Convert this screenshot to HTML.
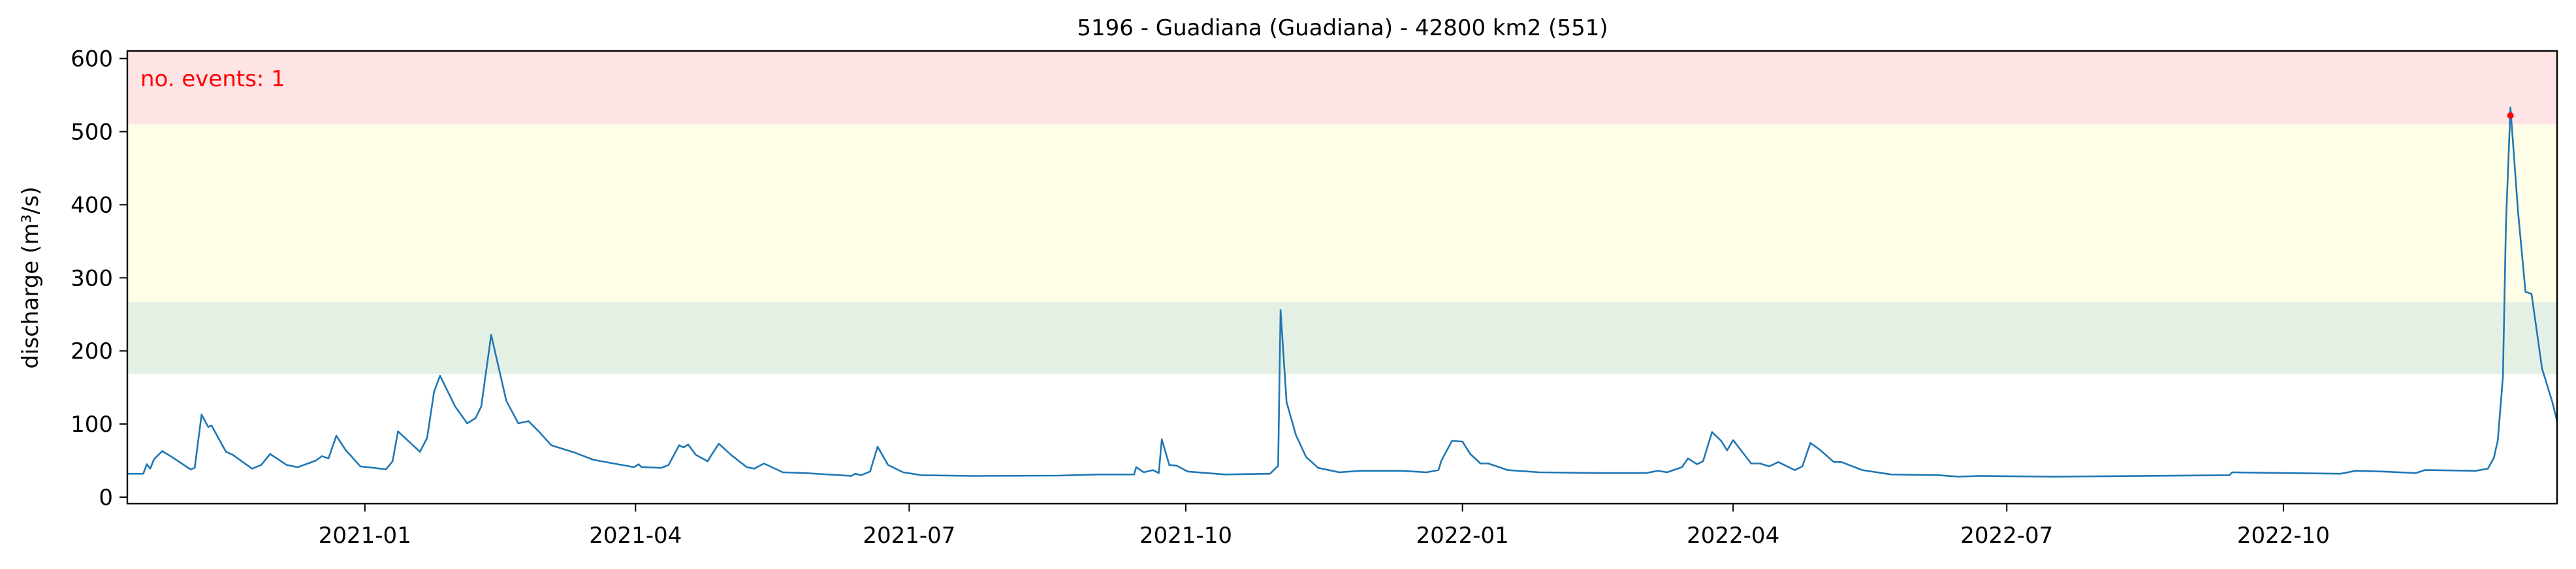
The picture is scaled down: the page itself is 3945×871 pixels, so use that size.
<!DOCTYPE html>
<html><head><meta charset="utf-8">
<style>
html,body{margin:0;padding:0;background:#fff;}
svg{display:block;}
text{font-family:"DejaVu Sans","Liberation Sans",sans-serif;}
</style></head>
<body>
<svg id="chart" width="3945" height="871" viewBox="0 0 3945 871" xmlns="http://www.w3.org/2000/svg">
  <g id="bands"></g>
  <g id="series"></g>
  <g id="axes"></g>
  <text x="2056" y="54" font-size="34" text-anchor="middle" fill="#000">5196 - Guadiana (Guadiana) - 42800 km2 (551)</text>
  <text x="215" y="132" font-size="34" fill="#ff0000">no. events: 1</text>
  <text transform="translate(58,425) rotate(-90)" font-size="34" text-anchor="middle" fill="#000">discharge (m³/s)</text>
</svg>
<script>
// ---- data (days since 2020-10-14, discharge m3/s) ----
const days = [0,5.3,6.5,7.6,8.9,11.6,14.8,21,22.4,24.7,26.9,28,32.8,35,41.5,44.5,47.5,53,56.7,62.7,64.7,66.9,69.5,72.5,77.5,82,86,88.2,90,97.3,99.7,102,104,109,113,115.8,117.7,121,126,130,133.4,136.8,141,148.7,155,168.5,170,171,177.6,180,183.5,185,186.5,189,193,194,196.7,201,206,208.5,211.7,218,225,240.8,242,244,247,249.5,253,258,264,281,310,323,334.8,335.5,338,341,343,344,346.5,349,352.6,365,380,382.7,383.5,385.5,388.6,392,396,403,410,423.6,432,436,437,440.5,444,446.6,450,452.6,459,469.6,489,505,509,512,517,519,522,524,527,530,532,534,540,543,546,549,554.5,557,559.7,562.8,567.5,570,577,586.6,602.5,609,615.5,640,699,700,736,741,750,761,764,781,785,787,788.3,790,791,792.5,795,797.5,799.5,803,806.5,808];
const discharge = [32,32,45,39,52,63,55,38,40,113,96,98,62,58,39,44,59,44,41,50,56,53,84,65,42,40,38,49,90,62,81,144,166,124,101,108,124,222,132,101,104,90,71,61,51,41,45,41,40,44,71,68,72,58,49,56,73,57,41,39,46,34,33,29,32,30,35,69,44,34,30,29,29.5,31,31,41,34,37,33,79,44,43,35,31,32,43,256,130,85,55,40,34,36,36,34,37,50,77,76,59,46,46,37,34,33,33,36,34,41,53,45,49,89,77,64,78,46,46,42,48,37,42,74,65,48,48,37,31,30,28,29,28,30,34,32,36,35,33,37,36,39,54,78,165,373,533,392,281,278,176,129,104];
const eventDays = [792.5];
const eventValues = [522];
const bandLows = [168, 267, 510];
const bandHighs = [267, 510, 620];
const bandColors = ['#e5f0e5', '#fefee6', '#ffe4e5'];
const yTicks = [0,100,200,300,400,500,600];
const xTickDays = [79,169,260,352,444,534,625,717];
const xTickLabels = ['2021-01','2021-04','2021-07','2021-10','2022-01','2022-04','2022-07','2022-10'];

// ---- axes geometry ----
const L=195, R=3916, T=78, B=771;
const xMin=0, xMax=808, yZeroPx=761, pxPerUnit=1.119;
const xs = d => L + (d - xMin) / (xMax - xMin) * (R - L);
const ys = v => yZeroPx - v * pxPerUnit;
const NS='http://www.w3.org/2000/svg';
function mk(tag, attrs, parent){const e=document.createElementNS(NS,tag);for(const k in attrs)e.setAttribute(k,attrs[k]);parent.appendChild(e);return e;}

const bands=document.getElementById('bands');
bandLows.forEach((lo,i)=>{
  const top=Math.max(T, ys(bandHighs[i])), bot=Math.min(B, ys(lo));
  const r=mk('rect',{x:L,y:top,width:R-L,height:bot-top,fill:bandColors[i]},bands);
  
  
});

const series=document.getElementById('series');
const n=Math.min(days.length, discharge.length);
const pts=days.slice(0,n).map((d,i)=>xs(d).toFixed(1)+','+ys(discharge[i]).toFixed(1)).join(' ');
const line=mk('polyline',{points:pts,fill:'none',stroke:'#1f77b4','stroke-width':2.6,'stroke-linejoin':'round'},series);


eventDays.forEach((d,i)=>{
  const c=mk('circle',{cx:xs(d),cy:ys(eventValues[i]),r:5,fill:'#ff0000'},series);
  
  
});

const axes=document.getElementById('axes');
const frame=mk('rect',{x:L,y:T,width:R-L,height:B-T,fill:'none',stroke:'#000','stroke-width':2.4},axes);


yTicks.forEach(v=>{
  const y=ys(v);
  const t=mk('line',{x1:L-12,x2:L,y1:y,y2:y,stroke:'#000','stroke-width':2},axes);
  
  
  const lb=mk('text',{x:L-22,y:y+12,'font-size':34,'text-anchor':'end',fill:'#000'},axes);
  lb.textContent=v;
  
  
});
xTickDays.forEach((d,i)=>{
  const x=xs(d);
  const t=mk('line',{x1:x,x2:x,y1:B,y2:B+12,stroke:'#000','stroke-width':2},axes);
  
  
  const lb=mk('text',{x:x,y:B+60,'font-size':34,'text-anchor':'middle',fill:'#000'},axes);
  lb.textContent=xTickLabels[i];
  
  
});
</script>
</body></html>
